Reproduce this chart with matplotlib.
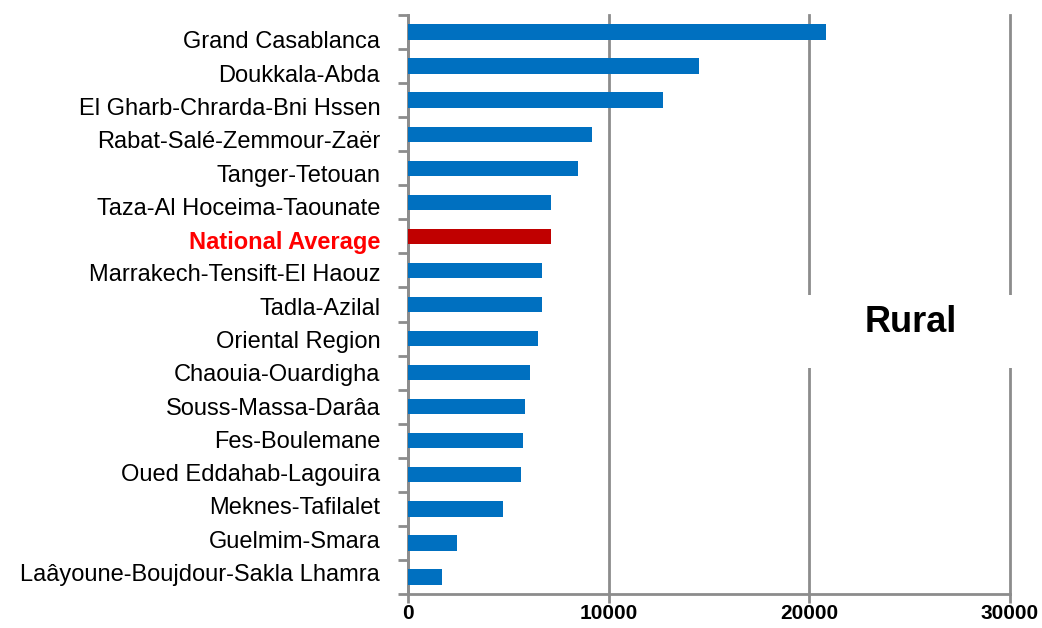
import matplotlib
matplotlib.use("Agg")
import matplotlib.pyplot as plt
from matplotlib.patches import Rectangle
import numpy as np

regions = [
    "Grand Casablanca", "Doukkala-Abda", "El Gharb-Chrarda-Bni Hssen",
    "Rabat-Salé-Zemmour-Zaër", "Tanger-Tetouan", "Taza-Al Hoceima-Taounate",
    "National Average", "Marrakech-Tensift-El Haouz", "Tadla-Azilal",
    "Oriental Region", "Chaouia-Ouardigha", "Souss-Massa-Darâa",
    "Fes-Boulemane", "Oued Eddahab-Lagouira", "Meknes-Tafilalet",
    "Guelmim-Smara", "Laâyoune-Boujdour-Sakla Lhamra",
]
values = [20850, 14510, 12720, 9180, 8480, 7130, 7130, 6680, 6680,
          6480, 6080, 5840, 5740, 5640, 4740, 2440, 1700]
xticks = [0, 10000, 20000, 30000]
highlight = "National Average"
panel_title = "Rural"

plt.rcParams['font.family'] = ['Liberation Sans', 'DejaVu Sans']

fig = plt.figure(figsize=(10.42, 6.28), dpi=100)
ax = fig.add_axes([408/1042, 1-594/628, (1010-408)/1042, (594-15)/628])

n = len(regions)
ypos = np.arange(n)[::-1]
colors = ['#C00000' if r == highlight else '#0070C0' for r in regions]
ax.barh(ypos, values, height=0.45, color=colors, zorder=3)

ax.set_ylim(-0.5, n - 0.5)
ax.set_xlim(0, 30000)
ax.set_xticks(xticks)
ax.set_xticklabels([str(v) for v in xticks], fontsize=15, fontweight='bold')
# label slots slightly compressed toward the centre, as in the reference
mid = (n - 1) / 2
label_pos = mid + (ypos - mid) * 0.977 - 0.05
ax.set_yticks(label_pos)
ax.set_yticklabels(regions, fontsize=17)
for lbl in ax.get_yticklabels():
    if lbl.get_text() == highlight:
        lbl.set_color('#FF0000')
        lbl.set_fontweight('bold')
ax.set_yticks(np.arange(n + 1) - 0.5, minor=True)

gray = '#8C8C8C'
ax.tick_params(axis='y', which='major', length=0, pad=20)
ax.tick_params(axis='y', which='minor', length=7, width=2, color=gray, direction='out')
ax.tick_params(axis='x', which='major', length=6.5, width=2, color=gray, direction='out', pad=1)

for s in ['top', 'right']:
    ax.spines[s].set_visible(False)
for s in ['left', 'bottom']:
    ax.spines[s].set_color(gray)
    ax.spines[s].set_linewidth(2)

ax.grid(axis='x', color=gray, linewidth=2, zorder=0)
for gl in ax.get_xgridlines():
    gl.set_clip_on(False)
ax.set_axisbelow(True)

rect = Rectangle((800/1042, 1-368/628), 222/1042, 73/628, transform=fig.transFigure,
                 facecolor='white', edgecolor='none', zorder=5)
fig.patches.append(rect)
fig.text(911/1042, 1-322/628, panel_title, fontsize=26, fontweight='bold',
         ha='center', va='center', zorder=6)

fig.savefig('out.png', dpi=100)
